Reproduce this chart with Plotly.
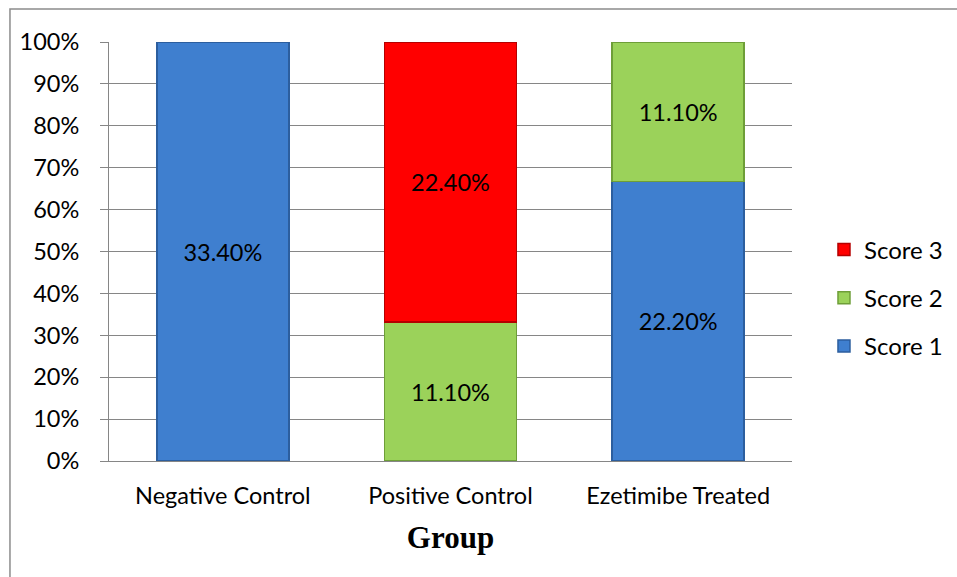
import plotly.graph_objects as go

# Share of animals per histological score in each group
groups = ["Negative Control", "Positive Control", "Ezetimibe Treated"]
score1 = [33.4, None, 22.2]
score2 = [None, 11.1, 11.1]
score3 = [None, 22.4, None]

series = [
    ("Score 1", score1, "#3F7FCF", "#2C5E9E", 3),
    ("Score 2", score2, "#9BD25A", "#6E9E38", 2),
    ("Score 3", score3, "#FF0000", "#B50000", 1),
]

font_main = "Lato, Calibri, sans-serif"
fsize = 23.5

fig = go.Figure()
for name, vals, fill, edge, rank in series:
    fig.add_trace(go.Bar(
        name=name,
        x=groups,
        y=vals,
        legendgroup=name,
        legendrank=rank,
        marker=dict(color=fill, line=dict(color=edge, width=1.5)),
        text=[f"{v:.2f}%" if v else "" for v in vals],
        textposition="inside",
        insidetextanchor="middle",
        textfont=dict(family=font_main, size=fsize, color="#000000"),
        hoverinfo="skip",
    ))

fig.update_layout(
    barmode="stack",
    barnorm="percent",
    bargap=0.42,
    width=957,
    height=577,
    margin=dict(l=109, r=165, t=42, b=116),
    paper_bgcolor="#FFFFFF",
    plot_bgcolor="#FFFFFF",
    font=dict(family=font_main, size=fsize, color="#000000"),
    showlegend=True,
    legend=dict(
        traceorder="grouped",
        tracegroupgap=14,
        xref="container", yref="container",
        x=0.861, xanchor="left",
        y=0.4835, yanchor="middle",
        font=dict(family=font_main, size=24, color="#000000"),
        itemwidth=30,
    ),
    xaxis=dict(
        showgrid=False,
        showline=True,
        linecolor="#868686",
        linewidth=1,
        ticks="",
        ticklabelstandoff=14,
        tickfont=dict(family=font_main, size=fsize),
        title=dict(text="<b>Group</b>",
                   font=dict(family="Liberation Serif, Times New Roman, serif", size=31),
                   standoff=18),
    ),
    yaxis=dict(
        range=[0, 100],
        dtick=10,
        ticksuffix="%",
        showgrid=True,
        gridcolor="#868686",
        gridwidth=1,
        showline=True,
        linecolor="#868686",
        linewidth=1,
        ticks="outside",
        ticklen=8,
        tickcolor="#868686",
        ticklabelstandoff=16,
        tickfont=dict(family=font_main, size=fsize),
        zeroline=False,
    ),
    shapes=[dict(
        type="rect", xref="paper", yref="paper",
        x0=-0.145, x1=1.35, y0=-0.5, y1=1.079,
        line=dict(color="#8C8C8C", width=1.5),
        fillcolor="rgba(0,0,0,0)",
        layer="below",
    )],
)

fig.write_html("out.html")
